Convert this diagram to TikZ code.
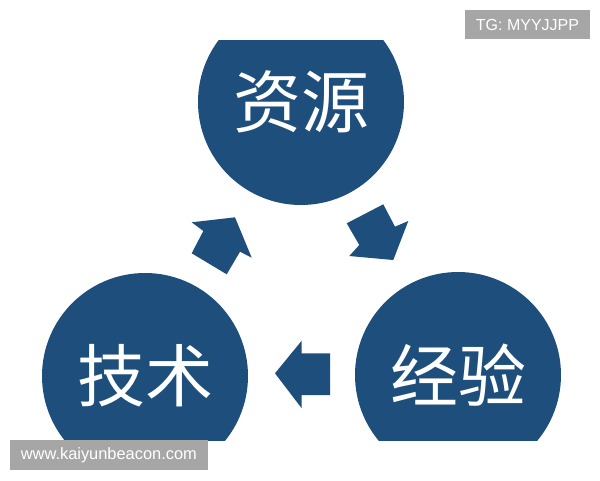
\documentclass[tikz,border=0pt]{standalone}
\usepackage{fontspec}
\setmainfont{Liberation Sans}
\newfontfamily\cjk{Noto Sans CJK SC}
\definecolor{navy}{RGB}{30,79,124}
\definecolor{mark}{RGB}{166,166,166}
\begin{document}
\begin{tikzpicture}[x=1pt,y=-1pt,
  bubble/.style={circle,fill=navy,inner sep=0pt,minimum size=206pt,text=white,font=\cjk\fontsize{68}{68}\selectfont},
  blockarrow/.style={fill=navy,draw=none},
  tag/.style={fill=mark,text=white,inner sep=0pt,font=\fontsize{16}{16}\selectfont}]
\useasboundingbox (0,0) rectangle (600,480);
\fill[white] (0,0) rectangle (600,480);
\begin{scope}
\clip (0,40) rectangle (600,440);
\node[bubble] (res) at (301,102) {资源};
\node[bubble] (tech) at (145,376) {技术};
\node[bubble] (exp) at (458,375) {经验};
\end{scope}
% arrow technology -> resources
\fill[blockarrow] (191.7,222.3) -- (235,217.3) -- (251.7,257.7) -- (240,251.7)
  -- (226.7,274.3) -- (191.7,253.3) -- (203.3,231) -- cycle;
% arrow resources -> experience
\fill[blockarrow] (346.7,223.3) -- (383.3,204.3) -- (395,226.7) -- (408.3,221)
  -- (393.3,260) -- (349.3,256) -- (359.3,245) -- cycle;
% arrow experience -> technology
\fill[blockarrow] (275,373.3) -- (301.7,340.7) -- (301.7,353.3) -- (330,353.3)
  -- (330,395) -- (301.7,395) -- (301.7,408.3) -- cycle;
\node[tag,minimum width=125pt,minimum height=29.5pt] (tg) at (527.5,24.7) {TG: MYYJJPP};
\node[tag,minimum width=197.7pt,minimum height=30pt,font=\fontsize{16.4}{16.4}\selectfont] (web) at (108.85,455) {www.kaiyunbeacon.com};
\end{tikzpicture}
\end{document}
